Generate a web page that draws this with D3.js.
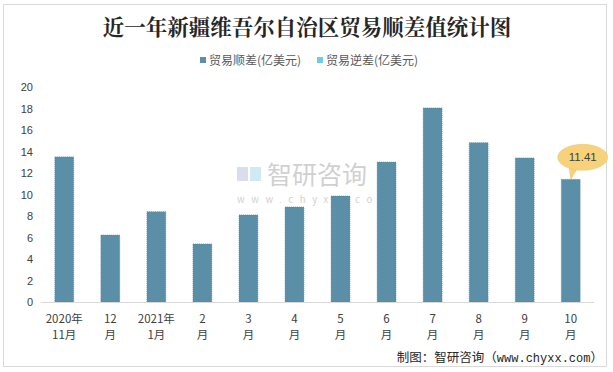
<!DOCTYPE html>
<html>
<head>
<meta charset="utf-8">
<script src="https://cdn.jsdelivr.net/npm/d3@7"></script>
<style>
  body { margin: 0; background: #fff; }
  svg { display: block; font-family: "Noto Sans CJK SC", "Microsoft YaHei", sans-serif; }
</style>
</head>
<body>
<div id="chart"></div>
<script>
// data
var months = ['2020年\n11月', '12\n月', '2021年\n1月', '2\n月', '3\n月', '4\n月', '5\n月', '6\n月', '7\n月', '8\n月', '9\n月', '10\n月'];
var surplus = [13.5, 6.23, 8.4, 5.4, 8.1, 8.84, 9.86, 13.02, 18.05, 14.82, 13.4, 11.41];
var yTicks = [0, 2, 4, 6, 8, 10, 12, 14, 16, 18, 20];
var legendNames = ['贸易顺差(亿美元)', '贸易逆差(亿美元)'];
var legendColors = ['#5b8fa8', '#6ccbea'];

var width = 613, height = 372;
var margin = { left: 41, right: 19, top: 87, bottom: 70 };

var svg = d3.select('#chart')
    .append('svg')
    .attr('width', width)
    .attr('height', height);

// outer frame
svg.append('rect')
    .attr('x', 3.5).attr('y', 4.5)
    .attr('width', 603).attr('height', 362)
    .attr('fill', 'white')
    .attr('stroke', '#d9d9d9');

svg.append('text')
    .attr('x', 307).attr('y', 35)
    .attr('text-anchor', 'middle')
    .attr('font-size', 21.5)
    .attr('font-weight', 'bold')
    .attr('font-family', '"Noto Serif CJK SC", "Noto Sans CJK SC", serif')
    .attr('fill', '#262626')
    .text('近一年新疆维吾尔自治区贸易顺差值统计图');

// legend
var legendX = [200, 317];
legendNames.forEach(function (name, i) {
    svg.append('rect')
        .attr('x', legendX[i]).attr('y', 57)
        .attr('width', 6).attr('height', 6)
        .attr('fill', legendColors[i]);
    svg.append('text')
        .attr('x', legendX[i] + 9).attr('y', 65)
        .attr('font-size', 12)
        .attr('fill', '#595959')
        .text(name);
});

var x = d3.scaleBand()
    .domain(months)
    .range([margin.left, width - margin.right])
    .paddingInner(0.59)
    .paddingOuter(0.3);

var y = d3.scaleLinear()
    .domain([0, 20])
    .range([height - margin.bottom, margin.top]);

// watermark
var wm = svg.append('g').attr('opacity', 0.4);
wm.append('rect').attr('x', 237).attr('y', 167).attr('width', 11).attr('height', 14).attr('fill', '#9fb0d0');
wm.append('rect').attr('x', 250).attr('y', 167).attr('width', 11).attr('height', 14).attr('fill', '#8fc6e8');
wm.append('text').attr('x', 267).attr('y', 184).attr('font-size', 25).attr('fill', '#8c8c8c').text('智研咨询');
wm.append('text').attr('x', 237).attr('y', 203).attr('font-size', 9.5).attr('fill', '#8c8c8c')
    .attr('letter-spacing', 6.6).text('www.chyxx.com');

// bars
svg.selectAll('rect.bar')
    .data(surplus)
    .enter()
    .append('rect')
    .attr('class', 'bar')
    .attr('x', function (d, i) { return x(months[i]); })
    .attr('y', function (d) { return y(d); })
    .attr('width', x.bandwidth())
    .attr('height', function (d) { return y(0) - y(d); })
    .attr('fill', legendColors[0])
    .attr('stroke', '#4e7f97')
    .attr('stroke-width', 0.6)
    .attr('stroke-dasharray', '1,1');

// y axis labels
var yAxis = svg.append('g')
    .attr('transform', 'translate(' + (margin.left - 8) + ',0)')
    .call(d3.axisLeft(y).tickValues(yTicks).tickSize(0).tickPadding(0));
yAxis.select('.domain').remove();
yAxis.selectAll('text')
    .attr('font-size', 11)
    .attr('fill', '#404040')
    .attr('font-family', '"Liberation Sans", Arial, sans-serif');

// baseline
svg.append('line')
    .attr('x1', margin.left).attr('x2', width - margin.right)
    .attr('y1', y(0) + 0.5).attr('y2', y(0) + 0.5)
    .attr('stroke', '#d9d9d9');

// x labels (two lines each)
var xl = svg.selectAll('text.xl')
    .data(months)
    .enter()
    .append('text')
    .attr('class', 'xl')
    .attr('text-anchor', 'middle')
    .attr('font-size', 11.5)
    .attr('fill', '#404040')
    .attr('x', function (d) { return x(d) + x.bandwidth() / 2; })
    .attr('y', 323);
xl.each(function (d) {
    var parts = d.split('\n');
    var t = d3.select(this);
    parts.forEach(function (p, k) {
        t.append('tspan')
            .attr('x', t.attr('x'))
            .attr('dy', k === 0 ? 0 : 16)
            .text(p);
    });
});

// callout on last bar
var last = surplus.length - 1;
var cx = x(months[last]) + x.bandwidth() / 2;
var cy = y(surplus[last]);
var bx = cx + 12, by = cy - 22;
svg.append('path')
    .attr('d', 'M' + (cx - 2) + ',' + (by + 6) + ' L' + cx + ',' + cy + ' L' + (cx + 8) + ',' + (by + 9) + ' Z')
    .attr('fill', '#f8d27a')
    .attr('stroke', '#e0c070')
    .attr('stroke-width', 0.5);
svg.append('ellipse')
    .attr('cx', bx).attr('cy', by)
    .attr('rx', 25).attr('ry', 13)
    .attr('fill', '#f8d27a')
    .attr('stroke', '#e3c577')
    .attr('stroke-width', 0.5);
svg.append('text')
    .attr('x', bx).attr('y', by + 4)
    .attr('text-anchor', 'middle')
    .attr('font-size', 11.5)
    .attr('fill', '#404040')
    .attr('font-family', '"Liberation Sans", Arial, sans-serif')
    .text(surplus[last].toFixed(2));

// source
var src = svg.append('text')
    .attr('x', 603).attr('y', 362)
    .attr('text-anchor', 'end')
    .attr('font-size', 12.5)
    .attr('fill', '#262626');
src.append('tspan').text('制图：智研咨询（');
src.append('tspan').attr('font-family', '"Liberation Mono", monospace').attr('font-size', 12).text('www.chyxx.com');
src.append('tspan').text('）');
</script>
</body>
</html>
